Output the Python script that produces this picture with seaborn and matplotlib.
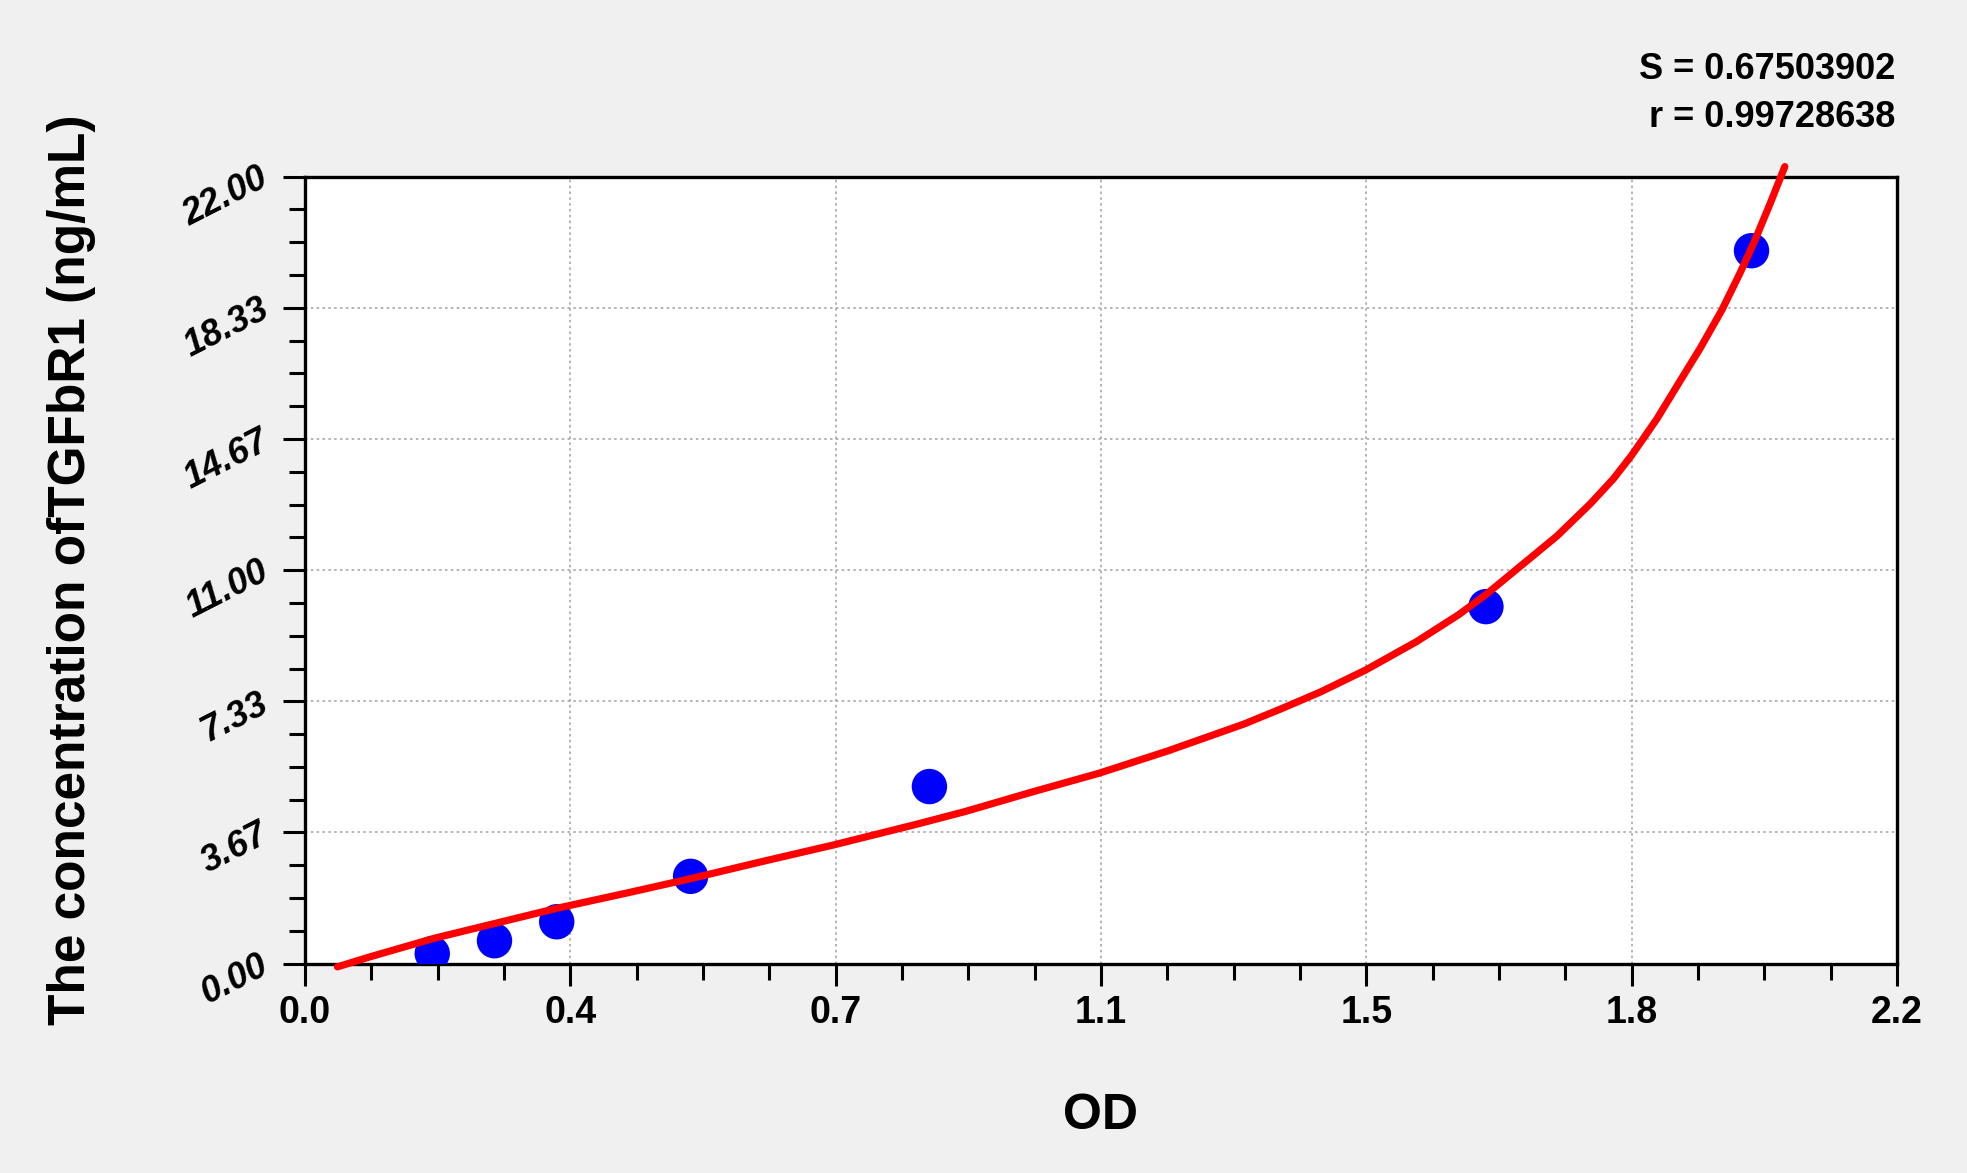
import numpy as np
import matplotlib
matplotlib.use('Agg')
import matplotlib.pyplot as plt
from matplotlib.ticker import AutoMinorLocator
import seaborn as sns

# standards (OD vs concentration)
std_od = [0.176, 0.262, 0.348, 0.533, 0.863, 1.632, 1.999]
std_conc = [0.28, 0.64, 1.17, 2.44, 4.95, 9.98, 19.93]

# fitted curve, sampled along the red line
fit_od = [0.045, 0.090, 0.179, 0.264, 0.349, 0.444, 0.534, 0.629, 0.731, 0.846,
          0.912, 1.007, 1.097, 1.193, 1.298, 1.351, 1.404, 1.466, 1.536, 1.594,
          1.631, 1.679, 1.730, 1.776, 1.808, 1.833, 1.868, 1.900, 1.928, 1.958,
          1.983, 2.002, 2.025, 2.045]
fit_conc = [-0.09, 0.19, 0.71, 1.13, 1.55, 1.97, 2.38, 2.84, 3.32, 3.90,
            4.25, 4.81, 5.32, 5.95, 6.70, 7.14, 7.60, 8.21, 9.00, 9.75,
            10.30, 11.10, 11.95, 12.85, 13.55, 14.20, 15.22, 16.28, 17.20, 18.27,
            19.30, 20.14, 21.26, 22.28]

x_tick_labels = ['0.0', '0.4', '0.7', '1.1', '1.5', '1.8', '2.2']
y_tick_labels = ['0.00', '3.67', '7.33', '11.00', '14.67', '18.33', '22.00']
stats_text = ['S = 0.67503902', 'r = 0.99728638']

sns.set_theme(style='white', rc={
    'figure.facecolor': '#f0f0f0',
    'axes.facecolor': 'white',
    'axes.edgecolor': 'black',
    'axes.labelcolor': 'black',
    'text.color': 'black',
    'xtick.color': 'black',
    'ytick.color': 'black',
})
plt.rcParams['font.family'] = ['Liberation Sans', 'DejaVu Sans']

fig = plt.figure(figsize=(19.67, 11.73), dpi=100, facecolor='#f0f0f0')
ax = fig.add_axes([0.155, 0.1785, 0.8094, 0.6709])

sns.scatterplot(x=std_od, y=std_conc, ax=ax, color='#0000ff', s=650,
                edgecolor='none', zorder=3)
sns.lineplot(x=fit_od, y=fit_conc, ax=ax, color='#ff0000', linewidth=5.2,
             sort=False, estimator=None, zorder=4)
ax.lines[-1].set_clip_on(False)
ax.lines[-1].set_solid_joinstyle('round')
ax.lines[-1].set_solid_capstyle('round')

ax.set_xlim(0, 2.2)
ax.set_ylim(0, 22)
ax.set_xticks(np.linspace(0, 2.2, 7), labels=x_tick_labels,
              fontsize=27, fontweight='bold')
ax.set_yticks(np.linspace(0, 22, 7), labels=y_tick_labels,
              fontsize=26, fontweight='bold', fontstyle='italic',
              rotation=27, rotation_mode='anchor', ha='right', va='center')
ax.xaxis.set_minor_locator(AutoMinorLocator(4))
ax.yaxis.set_minor_locator(AutoMinorLocator(4))
ax.tick_params(which='both', direction='out', width=2.2, color='black',
               bottom=True, left=True, top=False, right=False)
ax.tick_params(which='major', length=15.8)
ax.tick_params(which='minor', length=11.5)
ax.tick_params(axis='x', pad=7)
ax.tick_params(axis='y', pad=12)

ax.grid(True, which='major', color='#a8a8a8', linestyle=(0, (1.5, 2)), linewidth=1.2)
for sp in ax.spines.values():
    sp.set_visible(True)
    sp.set_color('black')
    sp.set_linewidth(2.4)

ax.set_xlabel('OD', fontsize=36, fontweight='bold')
ax.xaxis.set_label_coords(0.5, -0.164)
ax.set_ylabel('The concentration ofTGFbR1 (ng/mL)', fontsize=37, fontweight='bold')
ax.yaxis.set_label_coords(-0.131, 0.5)

fig.text(0.9634, 1 - 79 / 1173, stats_text[0], ha='right', va='baseline',
         fontsize=26, fontweight='bold')
fig.text(0.9634, 1 - 126.7 / 1173, stats_text[1], ha='right', va='baseline',
         fontsize=26, fontweight='bold')

fig.savefig('out.png', dpi=100, facecolor=fig.get_facecolor())
